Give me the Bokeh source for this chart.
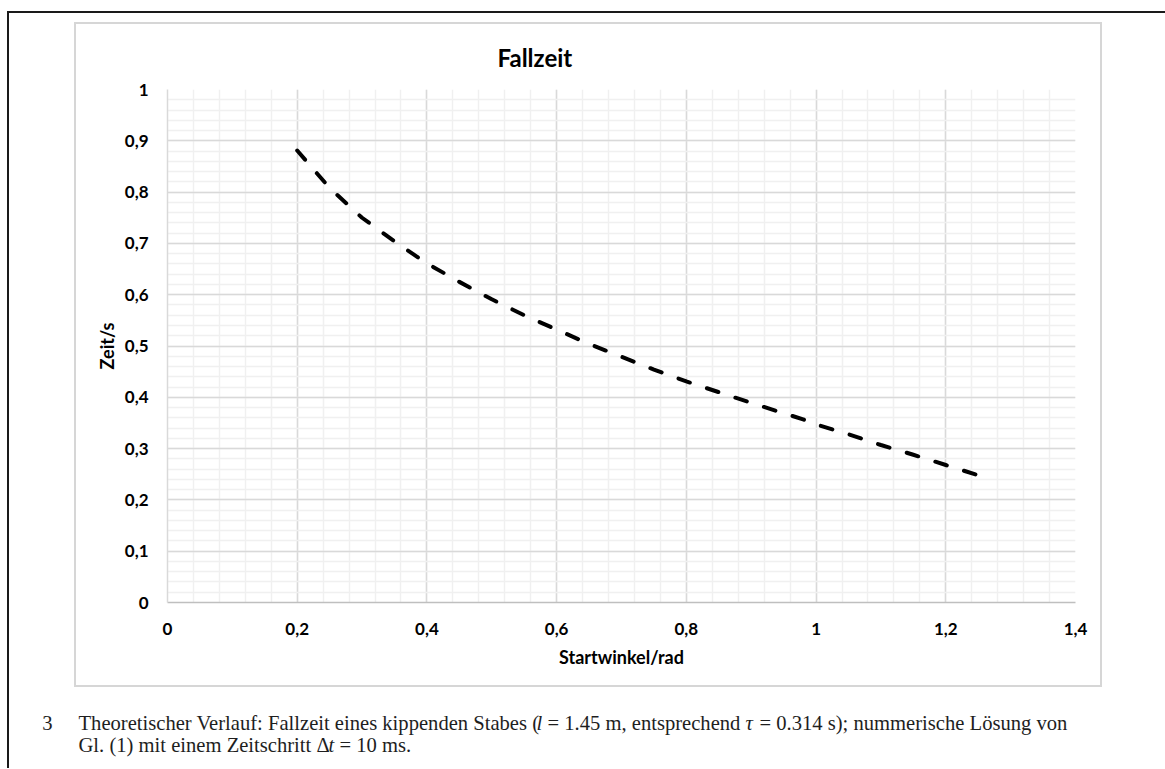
from bokeh.plotting import figure
from bokeh.layouts import column
from bokeh.models import Label, Range1d, FixedTicker
from bokeh.embed import file_html
from bokeh.resources import INLINE

# ---------------- data ----------------
startwinkel = [0.20, 0.25, 0.30, 0.35, 0.40, 0.45, 0.50, 0.55, 0.60, 0.65, 0.70, 0.75,
               0.80, 0.85, 0.90, 0.95, 0.98, 1.00, 1.05, 1.10, 1.15, 1.20, 1.25, 1.27]
fallzeit = [0.881, 0.808, 0.750, 0.704, 0.661, 0.625, 0.591, 0.560, 0.532, 0.504, 0.479, 0.454,
            0.431, 0.410, 0.389, 0.369, 0.357, 0.347, 0.328, 0.307, 0.288, 0.268, 0.248, 0.241]

x_ticks = [0, 0.2, 0.4, 0.6, 0.8, 1.0, 1.2, 1.4]
x_tick_labels = ["0", "0,2", "0,4", "0,6", "0,8", "1", "1,2", "1,4"]
y_ticks = [0, 0.1, 0.2, 0.3, 0.4, 0.5, 0.6, 0.7, 0.8, 0.9, 1.0]
y_tick_labels = ["0", "0,1", "0,2", "0,3", "0,4", "0,5", "0,6", "0,7", "0,8", "0,9", "1"]

title_text = "Fallzeit"
x_label = "Startwinkel/rad"
y_label = "Zeit/s"
caption_number = "3"
caption_line1 = ["Theoretischer Verlauf: Fallzeit eines kippenden Stabes (", "l",
                 "= 1.45 m, entsprechend", "\u03c4", "= 0.314 s); nummerische L\u00f6sung von"]
caption_line2 = ["Gl. (1) mit einem Zeitschritt \u0394", "t", "= 10 ms."]

# ---------------- layout (page pixels, no body margin) ----------------
PW = 1165
CH = 700            # chart canvas height
KH = 68             # caption canvas height
FL, FT, FR, FB = 167, 89, 1075, 602   # plot frame edges


def bar(color, x, y, w, h):
    return f"linear-gradient({color},{color}) {x}px {y}px / {w}px {h}px no-repeat"


BLACK = "#1a1a1a"
GRAY = "#d6d6d6"
chart_bg = ", ".join([
    bar(BLACK, 7, 11, 2, CH),          # document frame, left
    bar(BLACK, 7, 11, PW, 2),          # document frame, top
    bar(GRAY, 74, 22, 2, 665),         # chart area, left
    bar(GRAY, 1100, 22, 2, 665),       # chart area, right
    bar(GRAY, 74, 22, 1028, 2),        # chart area, top
    bar(GRAY, 74, 685, 1028, 2),       # chart area, bottom
]) + ", #ffffff"

p = figure(width=PW, height=CH, output_backend="svg", toolbar_location=None,
           x_range=Range1d(0, 1.4), y_range=Range1d(0, 1),
           min_border_left=FL, min_border_right=PW - FR,
           min_border_top=FT, min_border_bottom=CH - FB,
           styles={"background": chart_bg})
p.outline_line_color = None
p.background_fill_color = "white"
p.border_fill_color = None

p.xaxis.ticker = FixedTicker(ticks=x_ticks, minor_ticks=[round(i * 0.04, 2) for i in range(36)])
p.yaxis.ticker = FixedTicker(ticks=y_ticks, minor_ticks=[round(i * 0.02, 2) for i in range(51)])
p.xaxis.major_label_overrides = {t: l for t, l in zip(x_ticks, x_tick_labels)}
p.yaxis.major_label_overrides = {t: l for t, l in zip(y_ticks, y_tick_labels)}

for ax in (p.xaxis, p.yaxis):
    ax.major_tick_line_color = None
    ax.minor_tick_line_color = None
    ax.major_tick_in = 0
    ax.major_tick_out = 0
    ax.minor_tick_in = 0
    ax.minor_tick_out = 0
    ax.major_label_text_font = "Lato"
    ax.major_label_text_font_style = "bold"
    ax.major_label_text_font_size = "17px"
    ax.major_label_text_color = "#000000"
    ax.axis_label_text_font = "Lato"
    ax.axis_label_text_font_style = "bold"
    ax.axis_label_text_font_size = "18px"
    ax.axis_label_text_color = "#000000"

p.xaxis.axis_label = x_label
p.yaxis.axis_label = y_label
p.xaxis.major_label_standoff = 20
p.yaxis.major_label_standoff = 19
p.xaxis.axis_label_standoff = 8
p.yaxis.axis_label_standoff = 4
p.xaxis.axis_line_color = "#bfbfbf"
p.xaxis.axis_line_width = 1.5
p.yaxis.axis_line_color = "#d9d9d9"
p.yaxis.axis_line_width = 1.5

p.xgrid.grid_line_color = "#d9d9d9"
p.ygrid.grid_line_color = "#d9d9d9"
p.xgrid.grid_line_width = 1.5
p.ygrid.grid_line_width = 1.5
p.xgrid.minor_grid_line_color = "#f0f0f0"
p.ygrid.minor_grid_line_color = "#f0f0f0"
p.xgrid.minor_grid_line_width = 1.5
p.ygrid.minor_grid_line_width = 1.5

# title
p.title.text = title_text
p.title.text_font = "Lato"
p.title.text_font_style = "bold"
p.title.text_font_size = "24px"
p.title.text_color = "#000000"
p.title.align = "left"
p.title.offset = 330
p.title.standoff = 35

# data line
p.line(startwinkel, fallzeit, line_color="black", line_width=4,
       line_dash="12 18", line_cap="round", line_join="round")

# ---------------- caption ----------------
cap = figure(width=PW, height=KH, output_backend="svg", toolbar_location=None,
             x_range=Range1d(0, PW), y_range=Range1d(KH, 0),
             x_axis_location=None, y_axis_location=None,
             min_border_left=0, min_border_right=0, min_border_top=0, min_border_bottom=0,
             styles={"background": bar(BLACK, 7, 0, 2, KH) + ", #ffffff"})
cap.grid.visible = False
cap.outline_line_color = None
cap.background_fill_color = None
cap.border_fill_color = None

for f in (p, cap):
    if "frame_align" in f.properties():
        f.frame_align = False

cap_font = "Liberation Serif"
cap_size = "20.6px"
cap_color = "#1e1e1e"
L1, L2 = 22, 44
cap.add_layout(Label(x=47, y=L1, text=caption_number, text_font=cap_font,
                     text_font_size=cap_size, text_color=cap_color,
                     text_align="center", text_baseline="middle"))
line1_x = [78, 536, 547, 745, 759]
line2_x = [78, 328, 339]
for segs, xs, Y in ((caption_line1, line1_x, L1), (caption_line2, line2_x, L2)):
    for i, (t, X) in enumerate(zip(segs, xs)):
        cap.add_layout(Label(x=X, y=Y, text=t, text_font=cap_font, text_font_size=cap_size,
                             text_font_style="italic" if i % 2 == 1 else "normal",
                             text_color=cap_color, text_align="left", text_baseline="middle"))

root = column(p, cap, spacing=0)
open("out.html", "w").write(file_html(root, INLINE))
